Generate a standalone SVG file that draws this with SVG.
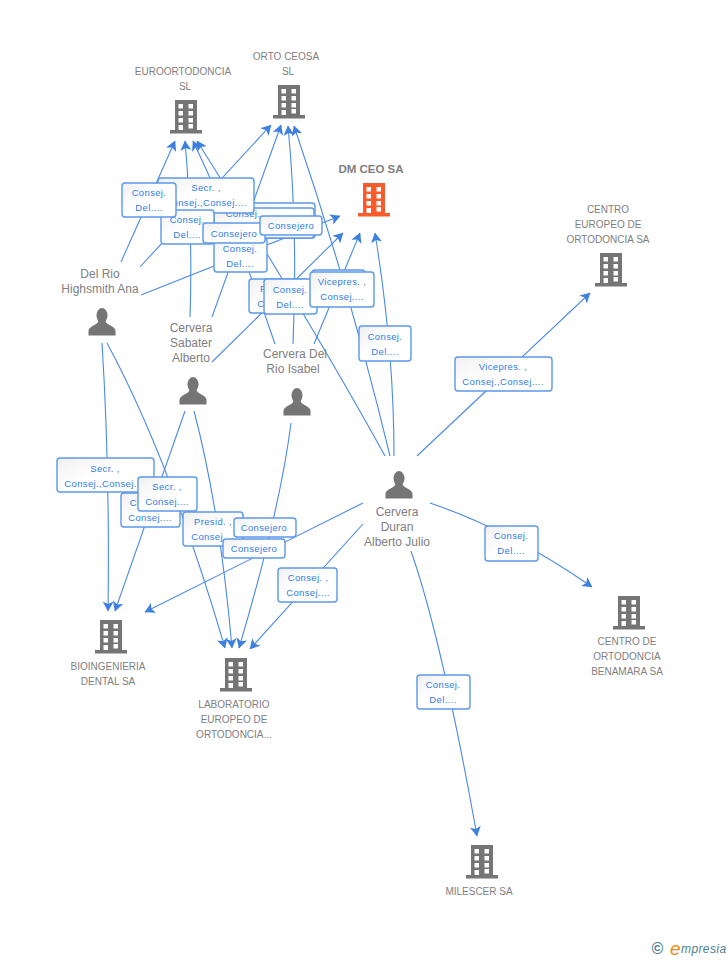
<svg xmlns="http://www.w3.org/2000/svg" width="728" height="960" viewBox="0 0 728 960">
<style>
text{font-family:"Liberation Sans",Arial,sans-serif}
.n{font-size:10px;fill:#808080;text-anchor:middle}
.p{font-size:12px;fill:#808080;text-anchor:middle}
.b{font-size:9.5px;fill:#2f7de8;text-anchor:middle;letter-spacing:.35px}
.e{fill:none;stroke:#4a8ae4;stroke-width:1.1;marker-end:url(#a)}
.r{fill:url(#g);stroke:#5c98ea;stroke-width:1.4}
.i{fill:#757575}
</style>
<defs>
<linearGradient id="g" x1="0" y1="0" x2="1" y2="1"><stop offset="0" stop-color="#f0f0f0"/><stop offset=".45" stop-color="#fff"/></linearGradient>
<marker id="a" markerUnits="userSpaceOnUse" markerWidth="10" markerHeight="11" viewBox="0 0 10 11" refX="9.500" refY="5.500" orient="auto"><path d="M10,5.500L0,0L2.500,5.500L0,11Z" fill="#3d80de"/></marker>
<symbol id="bld" width="32" height="34" viewBox="0 0 32 34" overflow="visible"><path d="M5,0H27V30H32V33.500H0V30H5Z"/><path fill="#fff" d="M8.500,4h4.500v4.500h-4.500zM18.500,4h4.500v4.500h-4.500zM8.500,11h4.500v4.500h-4.500zM18.500,11h4.500v4.500h-4.500zM8.500,18h4.500v4.500h-4.500zM18.500,18h4.500v4.500h-4.500zM8.500,25h4.500v5h-4.500zM18.500,24h4.500v4.500h-4.500z"/></symbol>
<symbol id="per" width="28" height="28" viewBox="0 0 28 28" overflow="visible"><ellipse cx="14" cy="7.500" rx="5.500" ry="7.500"/><path d="M10.500,13C10,17 1,18 .5,22.500V27.500H27.500V22.500C27,18 18,17 17.500,13Z"/></symbol>
</defs>
<g id="connectors">
<path class="e" d="M121,262L175,141"/>
<path class="e" d="M140,267L271,125"/>
<path class="e" d="M141,295L340,216"/>
<path class="e" d="M190,317Q193,230 185,141"/>
<path class="e" d="M212,317L281,125"/>
<path class="e" d="M212,362L343,233"/>
<path class="e" d="M275,344Q240,240 193,141"/>
<path class="e" d="M293,344Q298,230 288,126"/>
<path class="e" d="M314,344L360,233"/>
<path class="e" d="M385,456Q310,320 197,141"/>
<path class="e" d="M390,456Q350,290 294,126"/>
<path class="e" d="M394,456Q394,350 375,233"/>
<path class="e" d="M417,456L590,293"/>
<path class="e" d="M430,503Q510,530 592,587"/>
<path class="e" d="M411,551Q442,640 477,836"/>
<path class="e" d="M363,503L145,612"/>
<path class="e" d="M363,524L250,649"/>
<path class="e" d="M102,343Q110,470 108,611"/>
<path class="e" d="M107,343Q170,460 225,648"/>
<path class="e" d="M185,411L115,611"/>
<path class="e" d="M194,411Q220,510 232,648"/>
<path class="e" d="M291,423Q280,510 239,648"/>
</g>
<g id="edge-labels">
<rect class="r" x="225" y="203" width="90" height="35" rx="3"/>
<rect class="r" x="214" y="208" width="100" height="30" rx="3"/>
<text class="b" x="243" y="217">Consej.</text>
<rect class="r" x="158" y="178" width="96" height="35" rx="3"/>
<text class="b" x="206" y="191">Secr. ,</text><text class="b" x="206" y="206">Consej.,Consej....</text>
<rect class="r" x="161" y="210" width="53" height="34" rx="3"/>
<text class="b" x="187" y="223">Consej.</text><text class="b" x="187" y="238">Del....</text>
<rect class="r" x="122" y="183" width="54" height="34" rx="3"/>
<text class="b" x="149" y="196">Consej.</text><text class="b" x="149" y="211">Del....</text>
<rect class="r" x="214" y="238" width="53" height="34" rx="3"/>
<text class="b" x="240" y="252">Consej.</text><text class="b" x="240" y="267">Del....</text>
<rect class="r" x="203" y="223" width="62" height="20" rx="3"/>
<text class="b" x="234" y="237">Consejero</text>
<rect class="r" x="260" y="216" width="62" height="19" rx="3"/>
<text class="b" x="291" y="229">Consejero</text>
<rect class="r" x="249" y="279" width="60" height="34" rx="3"/>
<text class="b" x="279" y="292">Presid. ,</text><text class="b" x="279" y="307">Consej....</text>
<rect class="r" x="264" y="279" width="53" height="35" rx="3"/>
<text class="b" x="290" y="293">Consej.</text><text class="b" x="290" y="308">Del....</text>
<rect class="r" x="312" y="270" width="53" height="34" rx="3"/>
<rect class="r" x="310" y="272" width="64" height="35" rx="3"/>
<text class="b" x="342" y="285">Vicepres. ,</text><text class="b" x="342" y="300">Consej....</text>
<rect class="r" x="359" y="326" width="52" height="35" rx="3"/>
<text class="b" x="385" y="340">Consej.</text><text class="b" x="385" y="355">Del....</text>
<rect class="r" x="455" y="357" width="97" height="34" rx="3"/>
<text class="b" x="503" y="370">Vicepres. ,</text><text class="b" x="503" y="385">Consej.,Consej....</text>
<rect class="r" x="485" y="526" width="53" height="35" rx="3"/>
<text class="b" x="511" y="539">Consej.</text><text class="b" x="511" y="554">Del....</text>
<rect class="r" x="417" y="675" width="53" height="34" rx="3"/>
<text class="b" x="443" y="688">Consej.</text><text class="b" x="443" y="703">Del....</text>
<rect class="r" x="278" y="568" width="59" height="34" rx="3"/>
<text class="b" x="308" y="581">Consej. ,</text><text class="b" x="308" y="596">Consej....</text>
<rect class="r" x="57" y="458" width="97" height="34" rx="3"/>
<text class="b" x="105" y="472">Secr. ,</text><text class="b" x="105" y="487">Consej.,Consej....</text>
<rect class="r" x="121" y="493" width="59" height="34" rx="3"/>
<text class="b" x="150" y="506">Consej. ,</text><text class="b" x="150" y="521">Consej....</text>
<rect class="r" x="138" y="477" width="59" height="34" rx="3"/>
<text class="b" x="167" y="490">Secr. ,</text><text class="b" x="167" y="505">Consej....</text>
<rect class="r" x="183" y="512" width="60" height="34" rx="3"/>
<text class="b" x="213" y="525">Presid. ,</text><text class="b" x="213" y="540">Consej....</text>
<rect class="r" x="223" y="539" width="62" height="19" rx="3"/>
<text class="b" x="254" y="552">Consejero</text>
<rect class="r" x="234" y="518" width="62" height="19" rx="3"/>
<text class="b" x="264" y="531">Consejero</text>
</g>
<g id="node-euro"><text class="n" x="183" y="75">EUROORTODONCIA</text><text class="n" x="185" y="90">SL</text><use href="#bld" class="i" x="170" y="100"/></g>
<g id="node-orto"><text class="n" x="286" y="60">ORTO CEOSA</text><text class="n" x="288" y="75">SL</text><use href="#bld" class="i" x="273" y="85"/></g>
<g id="node-dmceo"><text x="371" y="173" font-size="11.500px" font-weight="700" fill="#808080" text-anchor="middle">DM CEO SA</text><use href="#bld" fill="#fb5a2b" x="358" y="183"/></g>
<g id="node-centro-europeo"><text class="n" x="608" y="213">CENTRO</text><text class="n" x="608" y="228">EUROPEO DE</text><text class="n" x="608" y="243">ORTODONCIA SA</text><use href="#bld" class="i" x="595" y="253"/></g>
<g id="node-benamara"><use href="#bld" class="i" x="613" y="596"/><text class="n" x="627" y="645">CENTRO DE</text><text class="n" x="627" y="660">ORTODONCIA</text><text class="n" x="627" y="675">BENAMARA SA</text></g>
<g id="node-bio"><use href="#bld" class="i" x="95" y="620"/><text class="n" x="108" y="670">BIOINGENIERIA</text><text class="n" x="108" y="685">DENTAL SA</text></g>
<g id="node-lab"><use href="#bld" class="i" x="220" y="658"/><text class="n" x="234" y="708">LABORATORIO</text><text class="n" x="234" y="723">EUROPEO DE</text><text class="n" x="234" y="738">ORTODONCIA...</text></g>
<g id="node-milescer"><use href="#bld" class="i" x="466" y="845"/><text class="n" x="479" y="895">MILESCER SA</text></g>
<g id="node-delrio"><text class="p" x="100" y="278">Del Rio</text><text class="p" x="100" y="293">Highsmith Ana</text><use href="#per" class="i" x="88" y="308"/></g>
<g id="node-sabater"><text class="p" x="191" y="332">Cervera</text><text class="p" x="191" y="347">Sabater</text><text class="p" x="191" y="362">Alberto</text><use href="#per" class="i" x="179" y="377"/></g>
<g id="node-isabel"><text class="p" x="295" y="358">Cervera Del</text><text class="p" x="293" y="373">Rio Isabel</text><use href="#per" class="i" x="283" y="388"/></g>
<g id="node-duran"><use href="#per" class="i" x="385" y="471"/><text class="p" x="397" y="516">Cervera</text><text class="p" x="397" y="531">Duran</text><text class="p" x="397" y="546">Alberto Julio</text></g>
<g id="logo"><text x="657.500" y="954" font-size="16px" font-weight="700" fill="#4b7f96" text-anchor="middle">©</text><text x="670" y="955" font-size="19px" font-style="italic" fill="#f08a1d">e</text><text x="681" y="953" font-size="12px" font-style="italic" fill="#4b7f96" letter-spacing=".4">mpresia</text></g>
</svg>
